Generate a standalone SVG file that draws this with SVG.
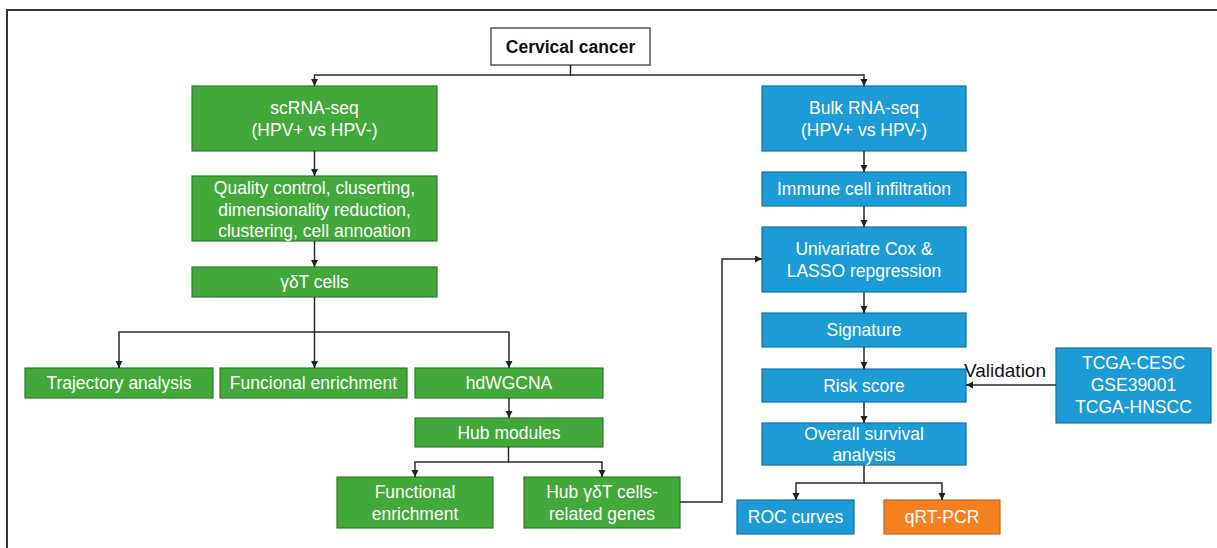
<svg xmlns="http://www.w3.org/2000/svg" width="1217" height="548" viewBox="0 0 1217 548">
<defs>
<marker id="ah" markerUnits="userSpaceOnUse" markerWidth="8" markerHeight="8" refX="7" refY="3.5" orient="auto">
<path d="M0,0 L7,3.5 L0,7 z" fill="#222"/>
</marker>
<style>
.g rect{fill:#42a839;stroke:#2e7e29;stroke-width:1.2}
.b rect{fill:#1c9bd7;stroke:#1571a6;stroke-width:1.2}
.o rect{fill:#f5801f;stroke:#c4661a;stroke-width:1.2}
text{font-family:"Liberation Sans",Arial,sans-serif;font-size:17.5px;text-anchor:middle}
.g text,.b text,.o text{fill:#fff}
.c path{fill:none;stroke:#2a2a2a;stroke-width:1.5;marker-end:url(#ah)}
.c path.n{marker-end:none}
</style>
</defs>
<rect width="1217" height="548" fill="#fff"/>
<path d="M7,548 V10 H1217" fill="none" stroke="#333" stroke-width="2"/>

<g id="cervical">
<rect x="491" y="28" width="159" height="37" fill="#fff" stroke="#555" stroke-width="1.5"/>
<text x="570.5" y="53" font-weight="bold" fill="#111">Cervical cancer</text>
</g>

<g id="scrna" class="g"><rect x="192" y="86" width="245" height="65"/><text x="314.5" y="114">scRNA-seq</text><text x="314.5" y="136">(HPV+ vs HPV-)</text></g>
<g id="qc" class="g"><rect x="192" y="176" width="245" height="65"/><text x="314.5" y="194">Quality control, cluserting,</text><text x="314.5" y="216">dimensionality reduction,</text><text x="314.5" y="237">clustering, cell annoation</text></g>
<g id="gdt" class="g"><rect x="192" y="267" width="245" height="30"/><text x="314.5" y="288">γδT cells</text></g>
<g id="traj" class="g"><rect x="25" y="368" width="188" height="30"/><text x="119" y="389">Trajectory analysis</text></g>
<g id="funcional" class="g"><rect x="220" y="368" width="187" height="30"/><text x="313.5" y="389">Funcional enrichment</text></g>
<g id="hdwgcna" class="g"><rect x="415" y="368" width="188" height="30"/><text x="509" y="389">hdWGCNA</text></g>
<g id="hubmod" class="g"><rect x="415" y="418" width="188" height="29"/><text x="509" y="439">Hub modules</text></g>
<g id="funcenr" class="g"><rect x="337" y="477" width="156" height="51"/><text x="415" y="498">Functional</text><text x="415" y="520">enrichment</text></g>
<g id="hubgenes" class="g"><rect x="524" y="477" width="156" height="51"/><text x="602" y="498">Hub γδT cells-</text><text x="602" y="520">related genes</text></g>

<g id="bulk" class="b"><rect x="762" y="86" width="204" height="65"/><text x="864" y="114">Bulk RNA-seq</text><text x="864" y="136">(HPV+ vs HPV-)</text></g>
<g id="immune" class="b"><rect x="762" y="172" width="204" height="34"/><text x="864" y="195">Immune cell infiltration</text></g>
<g id="cox" class="b"><rect x="762" y="227" width="204" height="65"/><text x="864" y="255">Univariatre Cox &amp;</text><text x="864" y="277">LASSO repgression</text></g>
<g id="signature" class="b"><rect x="762" y="313" width="204" height="34"/><text x="864" y="336">Signature</text></g>
<g id="risk" class="b"><rect x="762" y="369" width="204" height="33"/><text x="864" y="392">Risk score</text></g>
<g id="overall" class="b"><rect x="762" y="423" width="204" height="42"/><text x="864" y="440">Overall survival</text><text x="864" y="461">analysis</text></g>
<g id="roc" class="b"><rect x="737" y="500" width="117" height="34"/><text x="795.5" y="523">ROC curves</text></g>
<g id="qrtpcr" class="o"><rect x="884" y="500" width="116" height="34"/><text x="942" y="523">qRT-PCR</text></g>
<g id="tcga" class="b"><rect x="1056" y="348" width="155" height="75"/><text x="1133.5" y="369">TCGA-CESC</text><text x="1133.5" y="391">GSE39001</text><text x="1133.5" y="413">TCGA-HNSCC</text></g>

<g id="connectors" class="c">
<path d="M570.5,65 V75 H314.5 V86"/>
<path d="M570.5,75 H864 V86"/>
<path d="M314.5,151 V176"/>
<path d="M314.5,241 V267"/>
<path d="M314.5,297 V332 H119 V368"/>
<path d="M314.5,332 V368"/>
<path d="M314.5,332 H509 V368"/>
<path d="M509,398 V418"/>
<path d="M508.5,447 V462 H415 V477"/>
<path d="M508.5,462 H602 V477"/>
<path d="M680,502 H722 V259 H762"/>
<path d="M864,151 V172"/>
<path d="M864,206 V227"/>
<path d="M864,292 V313"/>
<path d="M864,347 V369"/>
<path d="M864,402 V423"/>
<path d="M864,465 V483 H796 V500"/>
<path d="M864,483 H942 V500"/>
<path d="M1056,385 H966"/>
<text x="1005" y="377" font-size="19" fill="#111" style="font-size:19px">Validation</text>
</g>
</svg>
